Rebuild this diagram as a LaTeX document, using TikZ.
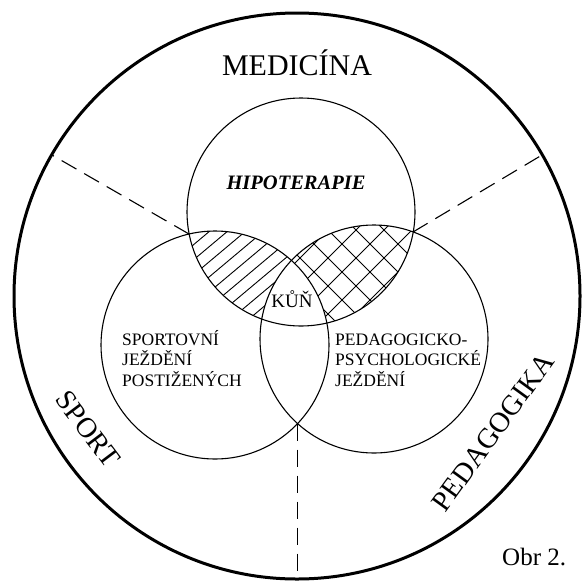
\documentclass[tikz,border=0pt]{standalone}
\usepackage{fontspec}
\setmainfont{Liberation Serif}
\usepackage{tikz}

\tikzset{
  kruh/.style={line width=1.1pt},
  obvod/.style={line width=3pt},
  hranice/.style={line width=1.1pt, dash pattern=on 17pt off 9pt},
  srafa/.style={line width=0.9pt},
  txt/.style={inner sep=0pt, anchor=base west, font=\fontsize{17.5}{20}\selectfont},
  obor/.style={inner sep=0pt, font=\fontsize{28.5}{30}\selectfont},
}

\begin{document}
\begin{tikzpicture}[x=1pt,y=-1pt]
\useasboundingbox (0,0) rectangle (588,581);

% stredy kruhu
\coordinate (S0) at (297,296);
\coordinate (ST) at (301,212);
\coordinate (SL) at (215,345);
\coordinate (SP) at (374,339);

% prusecky
\coordinate (TL) at (189,234);
\coordinate (TP) at (413,232);
\coordinate (LP) at (297.6,423.6);
\coordinate (O1) at (52,155);
\coordinate (O2) at (542,155);
\coordinate (O3) at (297.6,579);

% srafovani
\begin{scope}
\clip (ST) circle[radius=114pt];
\clip (SL) circle[radius=114pt];
\foreach \x in {44,62,...,330}
  \draw[srafa] (\x,340) -- (\x+150,214.1);
\end{scope}
\begin{scope}
\clip (ST) circle[radius=114pt];
\clip (SP) circle[radius=114pt];
\foreach \c in {502,530,...,760}
  \draw[srafa] (\c-340,340) -- (\c-210,210);
\foreach \d in {-98,-70,...,220}
  \draw[srafa] (\d+210,210) -- (\d+340,340);
\end{scope}
\begin{scope}
\clip (ST) circle[radius=114pt];
\clip (SL) circle[radius=114pt];
\fill[white] (SP) circle[radius=114pt];
\end{scope}

% kruhy
\draw[obvod] (S0) circle[radius=283pt];
\draw[kruh] (ST) circle[radius=114pt];
\draw[kruh] (SL) circle[radius=114pt];
\draw[kruh] (SP) circle[radius=114pt];

% hranice oboru
\draw[hranice] (TL) -- (O1);
\draw[hranice] (TP) -- (O2);
\draw[hranice] (LP) -- (O3);

% texty
\node[inner sep=0pt, anchor=base, font=\fontsize{30}{30}\selectfont] (med) at (297,75) {MEDICÍNA};
\node[obor, rotate=-53] (spo) at (88,429) {SPORT};
\node[obor, rotate=54] (ped) at (493,432) {PEDAGOGIKA};
\node[inner sep=0pt, anchor=base, font=\fontsize{20.5}{20}\selectfont\bfseries\itshape] (hip) at (296,189) {HIPOTERAPIE};
\node[inner sep=0pt, anchor=base, font=\fontsize{19}{20}\selectfont] (kun) at (292,307) {KŮŇ};

\node[txt] (s1) at (122,345) {SPORTOVNÍ};
\node[txt] (s2) at (122,365.5) {JEŽDĚNÍ};
\node[txt] (s3) at (122,386) {POSTIŽENÝCH};

\node[txt] (p1) at (335,345) {PEDAGOGICKO-};
\node[txt] (p2) at (335,365.5) {PSYCHOLOGICKÉ};
\node[txt] (p3) at (335,386) {JEŽDĚNÍ};

\node[inner sep=0pt, anchor=base west, font=\fontsize{25}{25}\selectfont] (obr) at (502,565) {Obr 2.};
\end{tikzpicture}
\end{document}
